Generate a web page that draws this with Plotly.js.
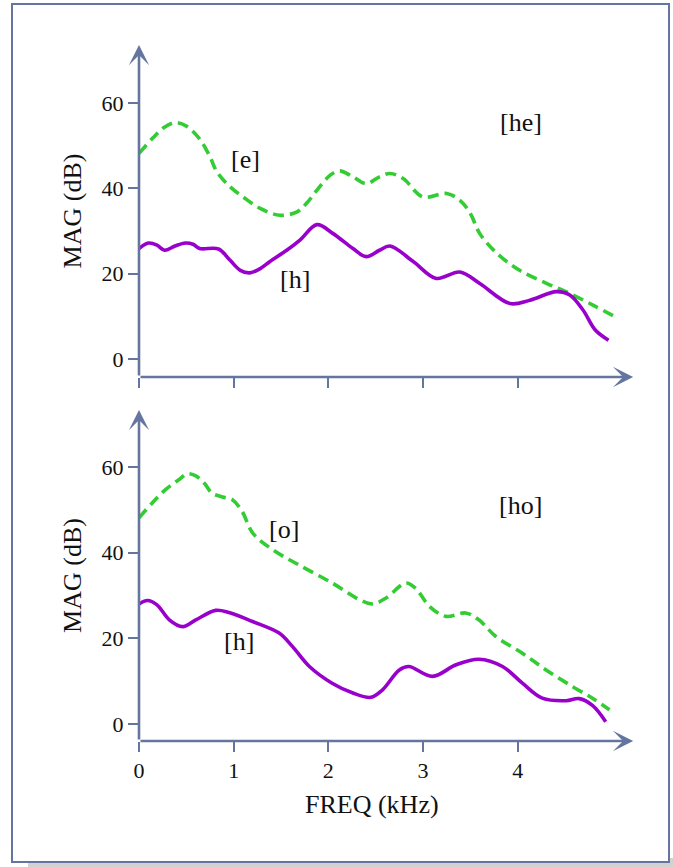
<!DOCTYPE html>
<html>
<head>
<meta charset="utf-8">
<script src="https://cdn.plot.ly/plotly-3.0.1.min.js"></script>
<style>
  html, body { margin: 0; padding: 0; background: #ffffff; }
  #chart { width: 673px; height: 867px; }
</style>
</head>
<body>
<div id="chart"></div>
<script>
// ---------------- DATA ----------------
// Top panel: [he]  (frequency in kHz, magnitude in dB)
const heVowelFreq = [0, 0.15, 0.26, 0.38, 0.5, 0.64, 0.75, 0.82, 0.96, 1.10, 1.28, 1.49, 1.67, 1.77, 1.88, 2.02, 2.12, 2.26, 2.40, 2.54, 2.65, 2.79, 3.00, 3.25, 3.39, 3.50, 3.60, 3.78, 4.02, 4.31, 4.55, 4.80, 5.03];
const heVowelMag  = [48.2, 51.9, 54.2, 55.4, 54.6, 51.6, 47.4, 44.0, 40.4, 38.0, 35.3, 33.7, 34.5, 36.5, 39.6, 43.1, 44.1, 42.7, 41.1, 42.7, 43.5, 42.3, 38.0, 38.8, 37.2, 34.1, 29.4, 24.8, 20.8, 17.7, 15.4, 12.6, 9.9];

const heFricFreq = [0, 0.10, 0.19, 0.27, 0.38, 0.49, 0.57, 0.64, 0.84, 0.96, 1.07, 1.17, 1.28, 1.38, 1.56, 1.70, 1.88, 2.05, 2.26, 2.40, 2.54, 2.65, 2.90, 3.14, 3.39, 3.60, 3.92, 4.13, 4.41, 4.55, 4.69, 4.82, 4.96];
const heFricMag  = [25.9, 27.2, 26.7, 25.5, 26.5, 27.2, 26.9, 25.9, 25.8, 23.2, 20.8, 20.2, 21.2, 22.8, 25.5, 27.9, 31.5, 29.4, 25.9, 24.0, 25.5, 26.5, 22.8, 18.9, 20.4, 17.7, 13.0, 13.8, 15.8, 15.0, 11.5, 6.8, 4.4];

// Bottom panel: [ho]
const hoVowelFreq = [0, 0.14, 0.28, 0.42, 0.51, 0.60, 0.69, 0.77, 0.88, 0.99, 1.09, 1.20, 1.41, 1.69, 2.04, 2.33, 2.47, 2.61, 2.82, 2.92, 3.07, 3.24, 3.45, 3.59, 3.77, 4.05, 4.30, 4.58, 4.79, 4.97];
const hoVowelMag  = [48.1, 51.6, 54.7, 57.0, 58.4, 57.9, 56.2, 53.9, 53.0, 52.3, 49.6, 44.6, 40.7, 37.1, 32.9, 29.0, 28.0, 29.4, 32.9, 31.7, 27.4, 25.1, 25.9, 24.3, 20.4, 16.5, 12.6, 8.7, 6.0, 3.3];

const hoFricFreq = [0, 0.09, 0.19, 0.32, 0.46, 0.60, 0.81, 0.95, 1.20, 1.48, 1.62, 1.80, 2.04, 2.26, 2.45, 2.57, 2.75, 2.85, 3.10, 3.35, 3.59, 3.84, 4.05, 4.26, 4.51, 4.65, 4.79, 4.93];
const hoFricMag  = [28.0, 28.8, 27.8, 24.3, 22.7, 24.3, 26.5, 26.0, 23.9, 21.2, 18.1, 13.4, 9.5, 7.2, 6.2, 7.9, 12.6, 13.4, 11.1, 13.8, 15.1, 13.4, 9.5, 6.0, 5.4, 5.9, 4.3, 0.5];

const xTickVals = [0, 1, 2, 3, 4];
const xTickText = ['0', '1', '2', '3', '4'];
const yTickVals = [0, 20, 40, 60];
const yTickText = ['0', '20', '40', '60'];

const panelLabels = ['[he]', '[ho]'];
const vowelLabels = ['[e]', '[o]'];
const fricLabels  = ['[h]', '[h]'];
const xTitle = 'FREQ (kHz)';
const yTitle = 'MAG (dB)';

// ---------------- STYLE / LAYOUT ----------------
const W = 673, H = 867, L = 139, R = 37, T = 45, B = 126;
const PW = W - L - R, PH = H - T - B;
const px2x = px => (px - L) / PW;
const px2y = py => (H - B - py) / PH;

const axisColor = '#64769f';
const green = '#33cc33';
const purple = '#9900cc';
const serif = '"Liberation Serif", "Times New Roman", Times, serif';

const xRange = [0, 5.25];
const yRangeTop = [-4.2, 73.6];
const yRangeBot = [-4.0, 73.3];

const vowelLine = {color: green, width: 3.6, dash: '11px,6px', shape: 'spline', smoothing: 1};
const fricLine  = {color: purple, width: 3.6, shape: 'spline', smoothing: 1};

const traces = [
  {x: heVowelFreq, y: heVowelMag, xaxis: 'x', yaxis: 'y', mode: 'lines', line: vowelLine, name: vowelLabels[0], hoverinfo: 'skip'},
  {x: heFricFreq,  y: heFricMag,  xaxis: 'x', yaxis: 'y', mode: 'lines', line: fricLine,  name: fricLabels[0], hoverinfo: 'skip'},
  {x: hoVowelFreq, y: hoVowelMag, xaxis: 'x2', yaxis: 'y2', mode: 'lines', line: vowelLine, name: vowelLabels[1], hoverinfo: 'skip'},
  {x: hoFricFreq,  y: hoFricMag,  xaxis: 'x2', yaxis: 'y2', mode: 'lines', line: fricLine,  name: fricLabels[1], hoverinfo: 'skip'}
];

function xAxis(anchor, labels) {
  return {
    domain: [0, 1], anchor: anchor, range: xRange, fixedrange: true,
    tickmode: 'array', tickvals: xTickVals, ticktext: xTickText,
    ticks: 'outside', ticklen: 10, tickwidth: 2, tickcolor: axisColor,
    showticklabels: labels, tickfont: {family: serif, size: 22, color: '#111'},
    showgrid: false, zeroline: false, showline: false, automargin: false
  };
}
function yAxis(anchor, domain, range) {
  return {
    domain: domain, anchor: anchor, range: range, fixedrange: true,
    tickmode: 'array', tickvals: yTickVals, ticktext: yTickText,
    ticks: 'outside', ticklen: 10, tickwidth: 2, tickcolor: axisColor,
    tickfont: {family: serif, size: 22, color: '#111'},
    showgrid: false, zeroline: false, showline: false, automargin: false,
    title: {text: yTitle, font: {family: serif, size: 26, color: '#111'}, standoff: 12}
  };
}

function arrow(xref, yref, x, y, ax, ay) {
  return {xref: xref, yref: yref, axref: xref, ayref: yref, x: x, y: y, ax: ax, ay: ay,
          text: '', showarrow: true, arrowhead: 3, arrowsize: 1.3, arrowwidth: 2.6,
          arrowcolor: axisColor, standoff: 0, startstandoff: 0};
}
function label(xref, yref, x, y, text) {
  return {xref: xref, yref: yref, x: x, y: y, text: text, showarrow: false,
          font: {family: serif, size: 26, color: '#111'}, xanchor: 'center', yanchor: 'middle'};
}

const annotations = [
  arrow('x', 'y', 0, yRangeTop[1], 0, yRangeTop[0]),
  arrow('x', 'y', 5.22, yRangeTop[0], 0, yRangeTop[0]),
  arrow('x2', 'y2', 0, yRangeBot[1], 0, yRangeBot[0]),
  arrow('x2', 'y2', 5.22, yRangeBot[0], 0, yRangeBot[0]),
  label('x', 'y', 4.03, 55.5, panelLabels[0]),
  label('x', 'y', 1.13, 46.8, vowelLabels[0]),
  label('x', 'y', 1.65, 18.7, fricLabels[0]),
  label('x2', 'y2', 4.03, 50.9, panelLabels[1]),
  label('x2', 'y2', 1.53, 45.3, vowelLabels[1]),
  label('x2', 'y2', 1.06, 19.2, fricLabels[1]),
  {xref: 'paper', yref: 'paper', x: px2x(372), y: px2y(804), text: xTitle, showarrow: false,
   font: {family: serif, size: 26, color: '#111'}, xanchor: 'center', yanchor: 'middle'}
];

const shapes = [
  {type: 'rect', xref: 'paper', yref: 'paper', layer: 'below',
   x0: px2x(28), x1: px2x(673), y0: px2y(867), y1: px2y(858),
   fillcolor: '#d2d2d2', line: {width: 0}},
  {type: 'rect', xref: 'paper', yref: 'paper', layer: 'below',
   x0: px2x(12), x1: px2x(669), y0: px2y(862), y1: px2y(4),
   fillcolor: '#ffffff', line: {color: axisColor, width: 2}}
];

const layout = {
  width: W, height: H,
  margin: {l: L, r: R, t: T, b: B, pad: 0},
  paper_bgcolor: '#ffffff', plot_bgcolor: 'rgba(0,0,0,0)',
  font: {family: serif, color: '#111', size: 22},
  showlegend: false,
  xaxis: xAxis('y', false),
  yaxis: yAxis('x', [px2y(377), 1], yRangeTop),
  xaxis2: xAxis('y2', true),
  yaxis2: yAxis('x2', [0, px2y(410)], yRangeBot),
  annotations: annotations,
  shapes: shapes
};

Plotly.newPlot('chart', traces, layout, {staticPlot: true, displayModeBar: false});
</script>
</body>
</html>
